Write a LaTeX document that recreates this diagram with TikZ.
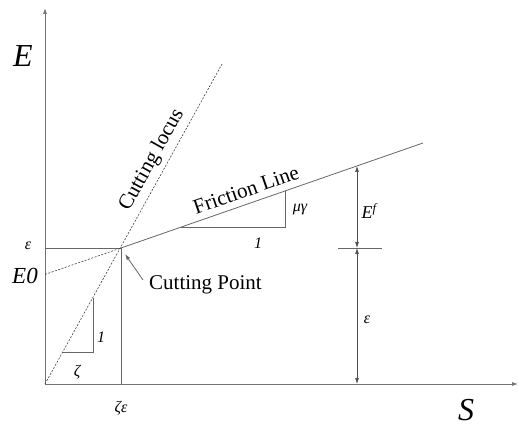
\documentclass[tikz,border=0pt]{standalone}
\usepackage{fontspec}
\setmainfont{Liberation Serif}
\usetikzlibrary{arrows.meta}
\tikzset{
  axisline/.style={draw=black!55,line width=0.9pt},
  thinline/.style={draw=black!60,line width=0.8pt},
  locusline/.style={draw=black!75,line width=0.6pt,dash pattern=on 2pt off 1.5pt},
  dimline/.style={draw=black!70,line width=0.7pt,{Latex[length=6pt,width=4pt]}-{Latex[length=6pt,width=4pt]}},
  lbl/.style={inner sep=0pt,font=\fontsize{21}{24}\selectfont},
  sym/.style={inner sep=0pt,font=\fontsize{16}{18}\selectfont\itshape}
}
\begin{document}
\begin{tikzpicture}[x=1pt,y=-1pt,>={Latex[length=6pt,width=4pt]}]
    \useasboundingbox (0,0) rectangle (519,427);
    % axes
    \coordinate (O) at (45,384);
    \coordinate (Etop) at (45,8);
    \coordinate (Send) at (518,384);
    \draw[axisline,->] (O) -- (Etop);
    \draw[axisline,->] (O) -- (Send);
    \node[inner sep=0pt,font=\fontsize{32}{34}\selectfont\itshape] (Elbl) at (23,56) {E};
    \node[inner sep=0pt,font=\fontsize{32}{34}\selectfont\itshape] (Slbl) at (466,410) {S};
    % cutting point and lines
    \coordinate (P) at (121,248);
    \coordinate (Pl) at (45,248);
    \coordinate (Pb) at (121,384);
    \coordinate (E0) at (45,274.4);
    \coordinate (Fend) at (423,143);
    \coordinate (Ltop) at (222,64);
    \draw[thinline] (Pl) -- (P) -- (Pb);
    \draw[locusline] (O) -- (Ltop);
    \draw[locusline] (E0) -- (P);
    \draw[thinline] (P) -- (Fend);
    \node[sym] (epsl) at (28,246) {ε};
    \node[inner sep=0pt,font=\fontsize{23}{25}\selectfont\itshape] (E0lbl) at (25,276) {E0};
    \node[sym] (zetaeps) at (121,408) {ζε};
    % slope triangles
    \coordinate (T1a) at (62.9,352);
    \coordinate (T1b) at (93,352);
    \coordinate (T1c) at (93,298);
    \draw[thinline] (T1a) -- (T1b) -- (T1c);
    \node[sym] (zeta) at (77,372) {ζ};
    \node[sym] (one1) at (101,337) {1};
    \coordinate (T2a) at (181.4,227);
    \coordinate (T2b) at (285,227);
    \coordinate (T2c) at (285,191);
    \draw[thinline] (T2a) -- (T2b) -- (T2c);
    \node[sym] (mugam) at (300,210) {μγ};
    \node[sym] (one2) at (258,243) {1};
    % text labels
    \node[lbl,rotate=60.8] (locus) at (152,160) {Cutting locus};
    \node[lbl,rotate=19.2] (fric) at (246,190) {Friction Line};
    \node[lbl,anchor=west] (cpt) at (149,285) {Cutting Point};
    \coordinate (Parr) at (125,254);
    \draw[thinline,->] (cpt.west) ++(-6,-5) -- (Parr);
    % dimensions
    \coordinate (Dtop) at (357,166);
    \coordinate (Dmid) at (357,248);
    \coordinate (Dbot) at (357,384);
    \coordinate (Tl) at (338,248);
    \coordinate (Tr) at (382,248);
    \draw[thinline] (Tl) -- (Tr);
    \draw[dimline] (Dtop) -- (Dmid);
    \draw[dimline] (Dmid) -- (Dbot);
    \node[inner sep=0pt,font=\fontsize{18}{20}\selectfont\itshape] (Ef) at (369,211) {E\textsuperscript{f}};
    \node[sym] (eps2) at (367,320) {ε};
\end{tikzpicture}
\end{document}
